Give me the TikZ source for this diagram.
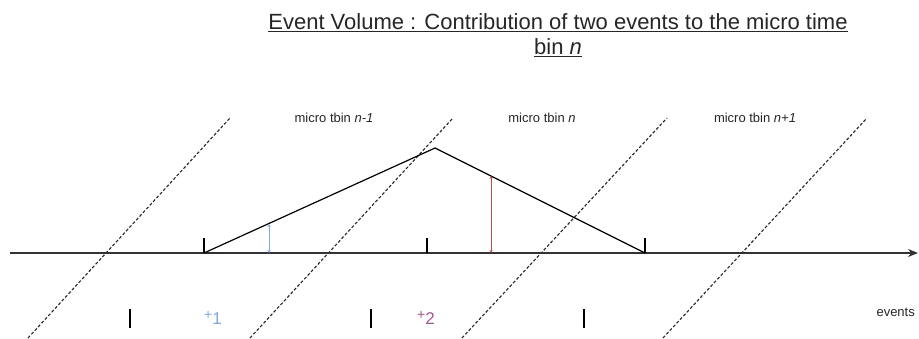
\documentclass[tikz,border=0pt]{standalone}
\usepackage{fontspec}
\setmainfont{Liberation Sans}
\usetikzlibrary{arrows.meta,positioning}
\definecolor{evblue}{RGB}{126,166,224}
\definecolor{evred}{RGB}{184,84,80}
\definecolor{evmauve}{RGB}{160,90,140}

\begin{document}
\begin{tikzpicture}[x=1pt,y=-1pt,
  axis/.style={draw=black!80,line width=1.2pt,-{Stealth[length=10pt,width=8pt]}},
  tick/.style={draw=black,line width=2.5pt},
  bound/.style={draw=black!85,line width=1.1pt,dash pattern=on 3pt off 2pt},
  vol/.style={draw=black,line width=1.2pt},
  contrib/.style={line width=0.7pt,{Stealth[length=3pt,width=3pt]}-{Stealth[length=3pt,width=3pt]}},
  lbl/.style={font=\fontsize{13}{15}\selectfont,text=black!85},
  ev/.style={font=\fontsize{17}{19}\selectfont}]
  \useasboundingbox (0,0) rectangle (919,338);
  % Title
  \node[font=\fontsize{22}{25}\selectfont,align=center,text=black!85] (title) at (558,35)
    {\underline{Event Volume : Contribution of two events to the micro time}\\\underline{bin \textit{n}}};
  % Bin boundaries
  \foreach \i/\xb/\xt in {1/28/230,2/250/453,3/462/667,4/663/867}{
    \coordinate (b\i) at (\xb,338);
    \coordinate (t\i) at (\xt,118);
    \draw[bound] (b\i) -- (t\i);
  }
  % Bin labels
  \node[lbl] (binA) at (334,118) {micro tbin \textit{n-1}};
  \node[lbl] (binB) at (542,118) {micro tbin \textit{n}};
  \node[lbl] (binC) at (755,118) {micro tbin \textit{n+1}};
  % Time axis
  \coordinate (start) at (10,253);
  \coordinate (end) at (918,253);
  \draw[axis] (start) -- (end);
  % Event volume
  \coordinate (left) at (204,253);
  \coordinate (peak) at (435,148);
  \coordinate (right) at (645,253);
  \draw[vol] (left) -- (peak) -- (right);
  \foreach \n/\x in {l/204,c/427,r/645}{
    \coordinate (tk\n) at (\x,253);
    \coordinate (tt\n) at (\x,238);
    \draw[tick] (tk\n) -- (tt\n);
  }
  % Contributions
  \coordinate (e1) at (269,253);
  \coordinate (h1) at (269,224);
  \coordinate (e2) at (491,253);
  \coordinate (h2) at (491,176);
  \draw[contrib,evblue] (e1) -- (h1);
  \draw[contrib,evred] (e2) -- (h2);
  % Events
  \foreach \n/\x in {a/130,b/371,c/584}{
    \coordinate (ea\n) at (\x,309);
    \coordinate (eb\n) at (\x,328);
    \draw[tick] (ea\n) -- (eb\n);
  }
  \node[ev,text=evblue] (ev1) at (213,318) {\raisebox{3pt}{\fontsize{14}{14}\selectfont +}\raisebox{-2pt}{1}};
  \node[ev,text=evmauve] (ev2) at (426,318) {\raisebox{3pt}{\fontsize{14}{14}\selectfont +}\raisebox{-2pt}{2}};
  \node[lbl,anchor=west] (events) at (873,312) {events};
\end{tikzpicture}
\end{document}
